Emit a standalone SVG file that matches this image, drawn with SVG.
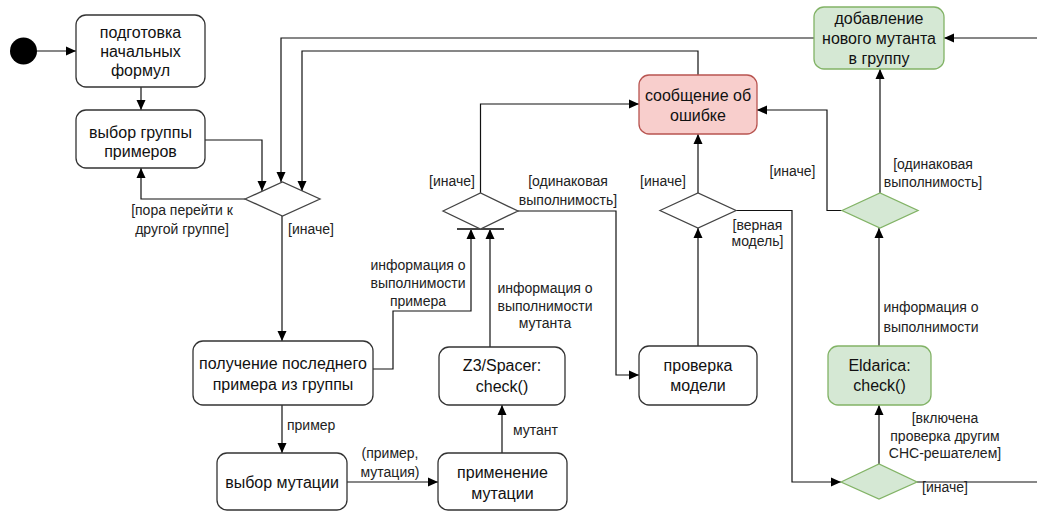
<svg xmlns="http://www.w3.org/2000/svg" width="1037" height="511" viewBox="0 0 1037 511">
<defs>
<marker id="arr" viewBox="0 0 10 10" refX="10" refY="5" markerWidth="10" markerHeight="10" markerUnits="userSpaceOnUse" orient="auto">
<path d="M0,0.5 L10,5 L0,9.5 Z" fill="#000"/>
</marker>
<style>
.box{fill:#fff;stroke:#333;stroke-width:1.3}
.green{fill:#d5e8d4;stroke:#82b366;stroke-width:1.3}
.red{fill:#f8cecc;stroke:#b85450;stroke-width:1.3}
.dia{fill:#fff;stroke:#444;stroke-width:1.3}
.c{fill:none;stroke:#111;stroke-width:1.2}
.ca{fill:none;stroke:#111;stroke-width:1.2;marker-end:url(#arr)}
.t{font-family:"Liberation Sans",Arial,sans-serif;font-size:16px;fill:#111;text-anchor:middle}
.l{font-family:"Liberation Sans",Arial,sans-serif;font-size:14px;fill:#222;text-anchor:middle}
.ls{text-anchor:start}
.le{text-anchor:end}
</style>
</defs>
<rect width="1037" height="511" fill="#fff"/>

<g id="connectors">
<path class="ca" d="M37,51 H76"/>
<path class="ca" d="M141,87 V110"/>
<path class="ca" d="M205,140 H262 V191"/>
<path class="ca" d="M245,199 H141 V168"/>
<path class="ca" d="M282,216 V341"/>
<path class="ca" d="M814,38 H281 V182"/>
<path class="ca" d="M698,75 V51 H302 V191"/>
<path class="ca" d="M373,369 H393 V311 H471 V229"/>
<path class="ca" d="M490,347 V229"/>
<path class="ca" d="M282,405 V453"/>
<path class="ca" d="M347,482 H438"/>
<path class="ca" d="M502,453 V405"/>
<path class="ca" d="M480.5,193 V104 H639"/>
<path class="ca" d="M518,211 H616 V375 H639"/>
<path class="ca" d="M698,346 V228"/>
<path class="ca" d="M698,193 V134"/>
<path class="ca" d="M736,210.5 H792 V482 H841"/>
<path class="ca" d="M879,464 V405"/>
<path class="ca" d="M917,482 H1045 V38 H944"/>
<path class="ca" d="M879,346 V228"/>
<path class="ca" d="M880,193 V69"/>
<path class="ca" d="M842,210.5 H827 V110 H757"/>
<line x1="457" y1="229" x2="504" y2="229" stroke="#444" stroke-width="2"/>
</g>

<g id="labels">
<text class="l"><tspan x="182" y="215">[пора перейти к</tspan><tspan x="182" y="234">другой группе]</tspan></text>
<text class="l ls" x="288" y="234">[иначе]</text>
<text class="l"><tspan x="418" y="269.5">информация о</tspan><tspan x="418" y="287.5">выполнимости</tspan><tspan x="418" y="305.5">примера</tspan></text>
<text class="l"><tspan x="545" y="292.5">информация о</tspan><tspan x="545" y="310.5">выполнимости</tspan><tspan x="545" y="328">мутанта</tspan></text>
<text class="l ls" x="287" y="429.5">пример</text>
<text class="l"><tspan x="390" y="457.5">(пример,</tspan><tspan x="390" y="476.5">мутация)</tspan></text>
<text class="l ls" x="513" y="434.5">мутант</text>
<text class="l le" x="475" y="186">[иначе]</text>
<text class="l"><tspan x="568" y="186">[одинаковая</tspan><tspan x="568" y="204.5">выполнимость]</tspan></text>
<text class="l le" x="686" y="186">[иначе]</text>
<text class="l"><tspan x="757.5" y="229.5">[верная</tspan><tspan x="757.5" y="246">модель]</tspan></text>
<text class="l" x="792.5" y="176">[иначе]</text>
<text class="l"><tspan x="933" y="169">[одинаковая</tspan><tspan x="933" y="187">выполнимость]</tspan></text>
<text class="l"><tspan x="931" y="311.5">информация о</tspan><tspan x="931" y="331.5">выполнимости</tspan></text>
<text class="l"><tspan x="945" y="422.5">[включена</tspan><tspan x="945" y="440.5">проверка другим</tspan><tspan x="945" y="457.5">CHC-решателем]</tspan></text>
<text class="l" x="945" y="491.5">[иначе]</text>
</g>

<g id="start"><circle cx="23.5" cy="51" r="13.5" fill="#000"/></g>

<g id="prep">
<rect class="box" x="76" y="15" width="129" height="72" rx="10"/>
<text class="t"><tspan x="140.5" y="37.5">подготовка</tspan><tspan x="140.5" y="56.5">начальных</tspan><tspan x="140.5" y="76">формул</tspan></text>
</g>

<g id="group">
<rect class="box" x="76" y="110" width="129" height="58" rx="10"/>
<text class="t"><tspan x="140.5" y="138">выбор группы</tspan><tspan x="140.5" y="157">примеров</tspan></text>
</g>

<g id="d1"><polygon class="dia" points="245,199 282.5,182 320,199 282.5,216"/></g>

<g id="last">
<rect class="box" x="193" y="341" width="180" height="64" rx="10"/>
<text class="t"><tspan x="283" y="369">получение последнего</tspan><tspan x="283" y="390">примера из группы</tspan></text>
</g>

<g id="mutsel">
<rect class="box" x="217" y="453" width="130" height="57" rx="10"/>
<text class="t" x="282" y="488">выбор мутации</text>
</g>

<g id="apply">
<rect class="box" x="438" y="453" width="129" height="57" rx="10"/>
<text class="t"><tspan x="502.5" y="478">применение</tspan><tspan x="502.5" y="499">мутации</tspan></text>
</g>

<g id="z3">
<rect class="box" x="439" y="347" width="126" height="58" rx="10"/>
<text class="t"><tspan x="502" y="371">Z3/Spacer:</tspan><tspan x="502" y="392">check()</tspan></text>
</g>

<g id="d2"><polygon class="dia" points="443,211 480.5,193 518,211 480.5,229"/></g>

<g id="error">
<rect class="red" x="639" y="75" width="118" height="59" rx="10"/>
<text class="t"><tspan x="698" y="101">сообщение об</tspan><tspan x="698" y="121">ошибке</tspan></text>
</g>

<g id="d3"><polygon class="dia" points="660,210.5 698,193 736,210.5 698,228"/></g>

<g id="model">
<rect class="box" x="639" y="346" width="118" height="59" rx="10"/>
<text class="t"><tspan x="698" y="371">проверка</tspan><tspan x="698" y="391">модели</tspan></text>
</g>

<g id="add">
<rect class="green" x="814" y="7" width="130" height="62" rx="10"/>
<text class="t"><tspan x="879" y="24">добавление</tspan><tspan x="879" y="44">нового мутанта</tspan><tspan x="879" y="64">в группу</tspan></text>
</g>

<g id="d5"><polygon class="green" points="842,210.5 880,193 918,210.5 880,228"/></g>

<g id="eldarica">
<rect class="green" x="828" y="346" width="103" height="59" rx="10"/>
<text class="t"><tspan x="879.5" y="371">Eldarica:</tspan><tspan x="879.5" y="391">check()</tspan></text>
</g>

<g id="d4"><polygon class="green" points="841,482 879,464 917,482 879,499"/></g>
</svg>
